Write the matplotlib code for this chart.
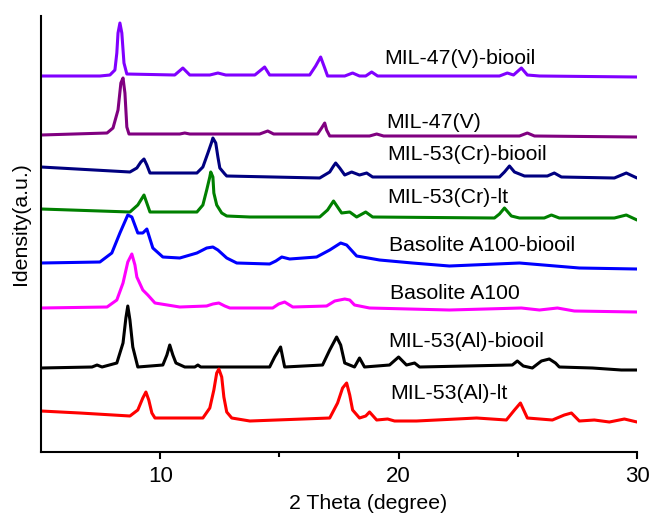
import matplotlib
matplotlib.use("Agg")
import matplotlib.pyplot as plt

plt.rcParams['font.family'] = ['Liberation Sans', 'DejaVu Sans']

# XRD traces (2 theta in degree, stacked intensity in a.u.)
top_tt = [5.0, 7.47, 7.89, 8.10, 8.18, 8.23, 8.31, 8.39, 8.48, 8.60, 10.61, 10.95, 11.24, 12.08, 12.42,
          12.75, 13.97, 14.38, 14.59, 16.27, 16.52, 16.73, 16.90, 17.02, 17.74, 18.07, 18.36, 18.62,
          18.87, 19.12, 24.23, 24.56, 24.82, 25.15, 25.40, 25.91, 30.0]
top_I = [376, 376, 377, 382, 399, 419, 429, 419, 389, 378, 377, 384, 377, 377, 379,
         377, 377, 385, 377, 377, 386, 395, 384, 376, 376, 379, 376, 376,
         380, 376, 376, 379, 377, 384, 377, 376, 375]

v_tt = [5.0, 7.77, 8.02, 8.23, 8.35, 8.44, 8.52, 8.60, 8.69, 10.82, 11.03, 11.24, 14.17, 14.51, 14.76,
        16.60, 16.77, 16.90, 16.98, 17.11, 18.78, 19.08, 19.37, 25.07, 25.40, 25.70, 30.0]
v_I = [317, 319, 324, 342, 369, 374, 359, 325, 318, 318, 319, 318, 318, 321, 318,
       318, 324, 329, 322, 316, 316, 318, 316, 316, 319, 316, 315]

cr_bio_tt = [5.0, 8.73, 9.02, 9.19, 9.32, 9.44, 9.57, 11.54, 11.79, 12.00, 12.16, 12.21, 12.33, 12.42,
             12.50, 12.71, 12.79, 16.69, 17.11, 17.27, 17.36, 17.53, 17.74, 18.03, 18.36, 18.66, 18.91,
             24.23, 24.44, 24.65, 24.86, 25.28, 26.24, 26.53, 26.83, 29.05, 29.55, 30.0]
cr_bio_I = [285, 280, 284, 290, 293, 287, 279, 279, 285, 299, 310, 314, 309, 295,
            284, 278, 276, 274, 280, 286, 289, 284, 277, 280, 277, 279, 275,
            275, 280, 286, 280, 276, 276, 279, 275, 274, 279, 274]

cr_lt_tt = [5.0, 8.73, 9.06, 9.32, 9.57, 11.54, 11.79, 11.95, 12.08, 12.12, 12.21, 12.25, 12.37, 12.58,
            12.79, 13.76, 16.69, 17.02, 17.27, 17.61, 17.95, 18.24, 18.62, 18.91, 24.02, 24.23, 24.44,
            24.73, 25.07, 26.11, 26.41, 26.74, 29.05, 29.55, 30.0]
cr_lt_I = [243, 240, 247, 257, 240, 240, 247, 262, 275, 280, 275, 259, 247, 239,
           236, 235, 235, 242, 251, 239, 240, 235, 240, 235, 234, 238, 244,
           236, 234, 234, 237, 234, 234, 237, 232]

a100_bio_tt = [5.0, 7.47, 7.97, 8.31, 8.64, 8.81, 9.06, 9.27, 9.44, 9.69, 10.11, 10.82, 11.54, 11.95,
               12.21, 12.42, 12.79, 13.21, 14.59, 14.85, 15.10, 15.43, 16.56, 17.11, 17.57, 17.82,
               18.24, 19.20, 20.58, 22.13, 25.07, 27.58, 30.0]
a100_bio_I = [189, 190, 199, 219, 237, 235, 219, 219, 223, 204, 195, 194, 199, 204,
              205, 202, 194, 189, 188, 191, 195, 193, 195, 202, 209, 207,
              196, 192, 189, 186, 189, 184, 183]

a100_tt = [5.0, 7.77, 8.18, 8.44, 8.64, 8.81, 8.94, 9.02, 9.27, 9.48, 9.78, 10.82, 11.95, 12.21, 12.46,
           12.71, 12.92, 14.72, 14.97, 15.22, 15.56, 16.98, 17.32, 17.74, 17.95, 18.15, 18.78, 22.13,
           25.15, 25.91, 26.66, 27.37, 30.0]
a100_I = [144, 145, 152, 169, 190, 198, 187, 175, 162, 157, 149, 145, 146, 148, 149,
          146, 144, 144, 148, 150, 145, 146, 151, 153, 152, 147, 144, 142,
          144, 142, 144, 141, 140]

al_bio_tt = [5.0, 7.14, 7.35, 7.56, 8.18, 8.44, 8.56, 8.64, 8.73, 8.85, 9.06, 10.11, 10.28, 10.40, 10.53,
             10.66, 11.03, 11.45, 11.58, 11.70, 14.59, 14.80, 15.05, 15.22, 16.81, 17.11, 17.40, 17.57,
             17.74, 18.15, 18.36, 18.57, 19.62, 20.00, 20.33, 20.67, 20.88, 24.77, 24.98, 25.23, 25.61,
             25.99, 26.32, 26.58, 26.74, 28.13, 29.34, 30.0]
al_bio_I = [84, 85, 87, 85, 89, 109, 134, 146, 132, 105, 85, 87, 97, 107, 97,
            89, 85, 85, 87, 85, 85, 95, 105, 85, 87, 102, 115, 107,
            89, 85, 94, 85, 87, 95, 87, 89, 85, 87, 91, 86, 84,
            91, 93, 89, 85, 84, 82, 82]

al_lt_tt = [5.0, 6.63, 8.73, 9.06, 9.27, 9.40, 9.52, 9.65, 9.78, 11.79, 12.08, 12.25, 12.37, 12.46,
            12.58, 12.67, 12.79, 13.00, 13.76, 17.11, 17.44, 17.65, 17.82, 17.95, 18.07, 18.36, 18.62,
            18.78, 19.08, 19.54, 19.83, 20.75, 23.27, 24.52, 24.86, 25.11, 25.40, 26.45, 26.95, 27.25,
            27.58, 28.21, 28.84, 29.47, 30.0]
al_lt_I = [41, 39, 36, 42, 54, 60, 52, 39, 34, 34, 44, 62, 79, 83,
           75, 55, 40, 34, 31, 34, 49, 64, 69, 57, 42, 34, 36,
           40, 32, 33, 31, 31, 34, 32, 42, 49, 34, 32, 37, 39,
           31, 32, 30, 33, 30]

names = ["MIL-47(V)-biooil", "MIL-47(V)", "MIL-53(Cr)-biooil", "MIL-53(Cr)-lt",
         "Basolite A100-biooil", "Basolite A100", "MIL-53(Al)-biooil", "MIL-53(Al)-lt"]
traces = [(top_tt, top_I), (v_tt, v_I), (cr_bio_tt, cr_bio_I), (cr_lt_tt, cr_lt_I),
          (a100_bio_tt, a100_bio_I), (a100_tt, a100_I), (al_bio_tt, al_bio_I), (al_lt_tt, al_lt_I)]
colors = ["#8000ff", "#800080", "#000080", "#008000", "#0000ff", "#ff00ff", "#000000", "#ff0000"]

# label anchor points (left edge, vertical centre)
label_pos = [(19.41, 394), (19.50, 330), (19.54, 298), (19.54, 255),
             (19.58, 207), (19.62, 159), (19.58, 111), (19.66, 59)]

fig = plt.figure(figsize=(6.52, 5.13), dpi=100)
ax = fig.add_axes([0.0629, 0.1189, 0.9141, 0.8499])

for (tt, inten), c in zip(traces, colors):
    ax.plot(tt, inten, color=c, lw=2.2, solid_joinstyle="round", solid_capstyle="round")

for name, (x, y) in zip(names, label_pos):
    ax.text(x, y, name, fontsize=15.3, ha="left", va="center")

ax.set_xlim(5, 30)
ax.set_ylim(0, 436)
ax.set_xticks([10, 20, 30])
ax.set_xticks([15, 25], minor=True)
ax.set_yticks([])
ax.tick_params(axis="x", which="major", direction="out", length=5, width=1.5, labelsize=16, pad=5)
ax.tick_params(axis="x", which="minor", direction="out", length=3.5, width=1.5)

for s in ["top", "right"]:
    ax.spines[s].set_visible(False)
for s in ["left", "bottom"]:
    ax.spines[s].set_linewidth(1.5)

ax.set_xlabel("2 Theta (degree)", fontsize=15.3)
ax.xaxis.set_label_coords(0.549, -0.117)
ax.xaxis.label.set_verticalalignment("center")
ax.set_ylabel("Idensity(a.u.)", fontsize=15.3)
ax.yaxis.set_label_coords(-0.035, 0.525)
ax.yaxis.label.set_verticalalignment("center")

fig.savefig("out.png", dpi=100)
